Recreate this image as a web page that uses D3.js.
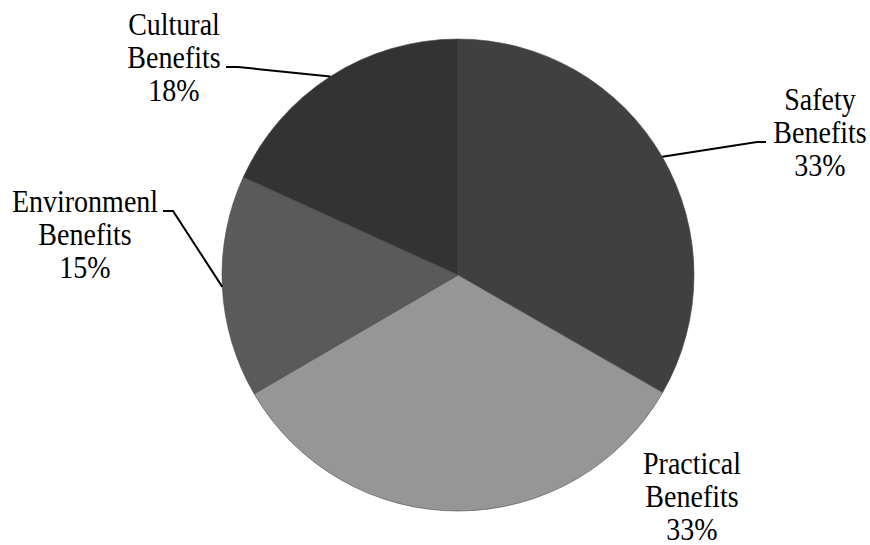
<!DOCTYPE html>
<html><head><meta charset="utf-8">
<script src="https://cdn.jsdelivr.net/npm/d3@7"></script>
<style>body{margin:0;background:#fff}svg{display:block}</style>
</head><body>
<script>
const categories = ["Safety Benefits", "Practical Benefits", "Environmenl Benefits", "Cultural Benefits"];
const labelLine1 = ["Safety", "Practical", "Environmenl", "Cultural"];
const labelLine2 = ["Benefits", "Benefits", "Benefits", "Benefits"];
const values = [33.3, 33.3, 15.2, 18.2];
const percentLabels = ["33%", "33%", "15%", "18%"];
const colors = ["#404040", "#969696", "#5a5a5a", "#333333"];

const W = 870, H = 545, cx = 458, cy = 275, R = 236;
// label placement (layout only)
const labelPos = [
  {x: 820, y: 110, elbow: [757, 142], end: [766, 142]},
  {x: 692, y: 474, elbow: null, end: null},
  {x: 85, y: 212, elbow: [173, 211], end: [163, 211]},
  {x: 174, y: 35, elbow: [238, 67], end: [226, 67]}
];

const svg = d3.select("body").append("svg").attr("width", W).attr("height", H);
const g = svg.append("g").attr("transform", `translate(${cx},${cy})`);
const pie = d3.pie().sort(null).value(d => d)(values);
const arc = d3.arc().innerRadius(0).outerRadius(R);
g.selectAll("path.slice").data(pie).join("path")
  .attr("class", "slice")
  .attr("d", arc)
  .attr("fill", (d, i) => colors[i])
  .attr("stroke", "#4a4a4a").attr("stroke-width", 0.6);

pie.forEach((d, i) => {
  const lp = labelPos[i];
  if (lp.elbow) {
    const a = (d.startAngle + d.endAngle) / 2;
    const sx = cx + R * Math.sin(a), sy = cy - R * Math.cos(a);
    svg.append("path")
      .attr("d", d3.line()([[sx, sy], lp.elbow, lp.end]))
      .attr("fill", "none").attr("stroke", "#000").attr("stroke-width", 2);
  }
  const t = svg.append("text").attr("text-anchor", "middle")
    .style("font-family", '"Liberation Serif"')
    .style("font-size", "28px").attr("fill", "#000")
    .attr("transform", `translate(${lp.x},${lp.y}) scale(1,1.12)`);
  [labelLine1[i], labelLine2[i], percentLabels[i]].forEach((s, k) => {
    t.append("tspan").attr("x", 0).attr("y", k * 33 / 1.12).text(s);
  });
});
</script>
</body></html>
